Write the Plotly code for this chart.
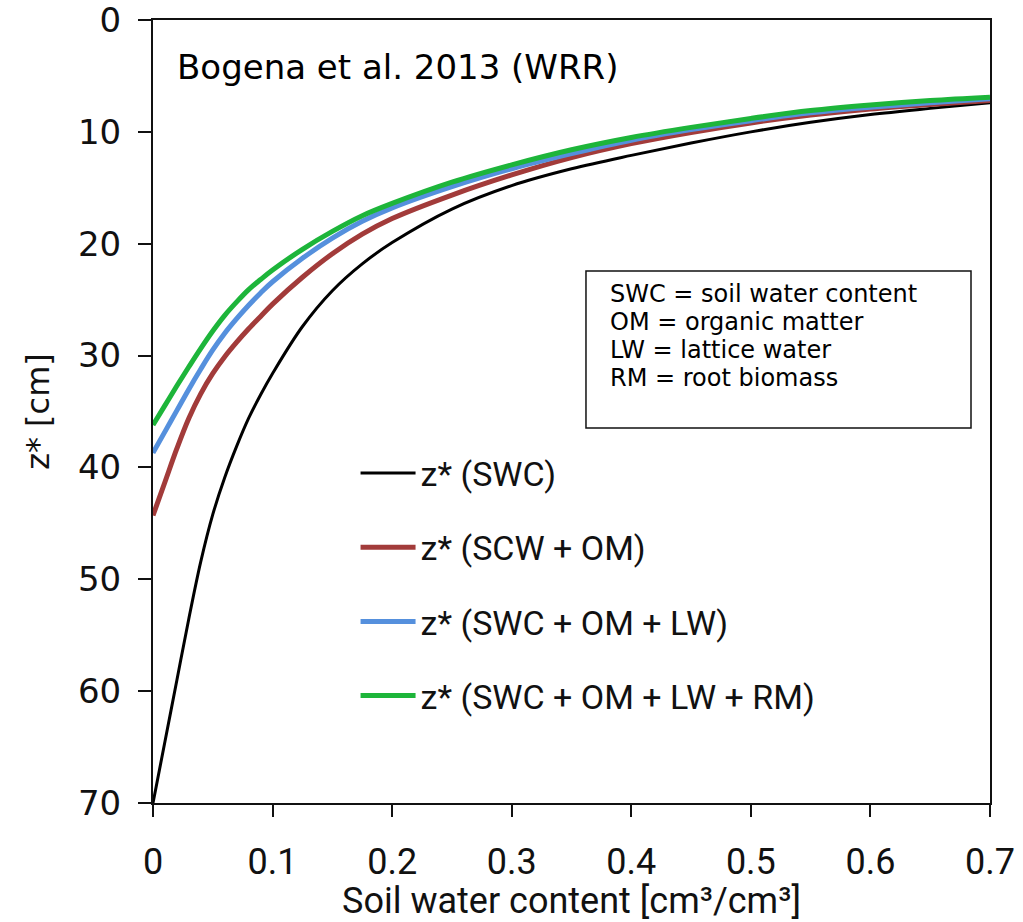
import plotly.graph_objects as go

# Soil water content grid [cm3/cm3]
swc = [0.0, 0.01, 0.02, 0.03, 0.04, 0.05, 0.06, 0.07, 0.08, 0.09, 0.1, 0.125, 0.15, 0.175,
       0.2, 0.25, 0.3, 0.35, 0.4, 0.45, 0.5, 0.55, 0.6, 0.65, 0.7]

# Penetration depth z* [cm] for each moisture definition
z_swc = [70.0, 64.5, 59.0, 53.5, 48.4, 44.2, 40.9, 38.1, 35.6, 33.5, 31.6, 27.4, 24.2, 21.8,
         19.9, 16.9, 14.8, 13.3, 12.1, 11.0, 10.0, 9.15, 8.45, 7.9, 7.4]
z_swc_om = [44.3, 41.3, 38.3, 35.6, 33.4, 31.6, 30.1, 28.8, 27.6, 26.5, 25.4, 23.0, 20.9, 19.15,
            17.75, 15.65, 13.85, 12.3, 11.05, 10.05, 9.2, 8.5, 7.95, 7.55, 7.2]
z_swc_om_lw = [38.7, 36.8, 34.9, 33.0, 31.2, 29.5, 28.0, 26.7, 25.5, 24.4, 23.4, 21.3, 19.5, 18.0,
               16.8, 14.9, 13.3, 11.95, 10.75, 9.8, 9.0, 8.3, 7.8, 7.4, 7.05]
z_swc_om_lw_rm = [36.2, 34.45, 32.7, 31.0, 29.35, 27.8, 26.4, 25.2, 24.1, 23.2, 22.35, 20.5, 18.9, 17.5,
                  16.4, 14.5, 12.95, 11.6, 10.5, 9.6, 8.8, 8.1, 7.6, 7.2, 6.9]

series_names = ["z* (SWC)", "z* (SCW + OM)", "z* (SWC + OM + LW)", "z* (SWC + OM + LW + RM)"]
series_values = [z_swc, z_swc_om, z_swc_om_lw, z_swc_om_lw_rm]
series_colors = ["#000000", "#A23B3A", "#5590DD", "#1DB53A"]
series_widths = [3, 5, 5, 5]

x_ticks = [0, 0.1, 0.2, 0.3, 0.4, 0.5, 0.6, 0.7]
x_ticktext = ["0", "0.1", "0.2", "0.3", "0.4", "0.5", "0.6", "0.7"]
y_ticks = [0, 10, 20, 30, 40, 50, 60, 70]

abbreviations = ["SWC = soil water content", "OM = organic matter",
                 "LW = lattice water", "RM = root biomass"]

fig = go.Figure()
for i, (name, vals, col, w) in enumerate(zip(series_names, series_values, series_colors, series_widths)):
    fig.add_trace(go.Scatter(
        x=swc, y=vals, mode="lines", name=name,
        legendgroup=f"g{i}",
        line=dict(color=col, width=w, shape="spline", smoothing=1.0),
    ))

narrow = "Liberation Sans Narrow, Roboto, sans-serif"
wide = "DejaVu Sans, Verdana, sans-serif"
ink = "#111111"

# Abbreviation key: framed box with one text line per entry
box_x0, box_x1, box_y0, box_y1 = 0.5173, 0.9773, 0.4789, 0.6794
line_y = [0.6501, 0.6143, 0.5785, 0.5428]
annotations = [
    dict(
        text="Bogena et al. 2013 (WRR)", xref="paper", yref="paper",
        x=0.026, y=0.94, xanchor="left", yanchor="middle", showarrow=False,
        font=dict(family=wide, size=34, color="#000000"),
    )
]
for txt, yy in zip(abbreviations, line_y):
    annotations.append(dict(
        text=txt, xref="paper", yref="paper", x=0.5436, y=yy,
        xanchor="left", yanchor="middle", showarrow=False,
        font=dict(family=wide, size=24, color="#000000"),
    ))

fig.update_layout(
    width=1023, height=922,
    margin=dict(l=153, r=33, t=20, b=119, autoexpand=False),
    paper_bgcolor="white", plot_bgcolor="white",
    showlegend=True,
    legend=dict(
        x=0.242, y=0.458, xanchor="left", yanchor="top",
        bgcolor="rgba(0,0,0,0)", borderwidth=0,
        font=dict(family=narrow, size=34, color=ink),
        tracegroupgap=27, itemwidth=55,
    ),
    xaxis=dict(
        range=[0, 0.7], tickvals=x_ticks, ticktext=x_ticktext,
        showgrid=False, zeroline=False, automargin=False,
        showline=True, linecolor=ink, linewidth=2, mirror=True,
        ticks="outside", ticklen=12, tickwidth=2, tickcolor=ink,
        tickfont=dict(family=narrow, size=36, color=ink),
        ticklabelstandoff=14, ticklabeloverflow="allow",
        title=dict(text="Soil water content [cm³/cm³]",
                   font=dict(family=narrow, size=36, color=ink), standoff=6),
    ),
    yaxis=dict(
        range=[70, 0], tickvals=y_ticks,
        showgrid=False, zeroline=False, automargin=False,
        showline=True, linecolor=ink, linewidth=2, mirror=True,
        ticks="outside", ticklen=13, tickwidth=2, tickcolor=ink,
        tickfont=dict(family=wide, size=34, color=ink),
        ticklabelstandoff=10, ticklabeloverflow="allow",
        title=dict(text="z* [cm]", font=dict(family=wide, size=32, color=ink), standoff=19),
    ),
    shapes=[dict(
        type="rect", xref="paper", yref="paper",
        x0=box_x0, x1=box_x1, y0=box_y0, y1=box_y1,
        line=dict(color=ink, width=1.5), fillcolor="white", layer="below",
    )],
    annotations=annotations,
)

fig.write_html("out.html")
